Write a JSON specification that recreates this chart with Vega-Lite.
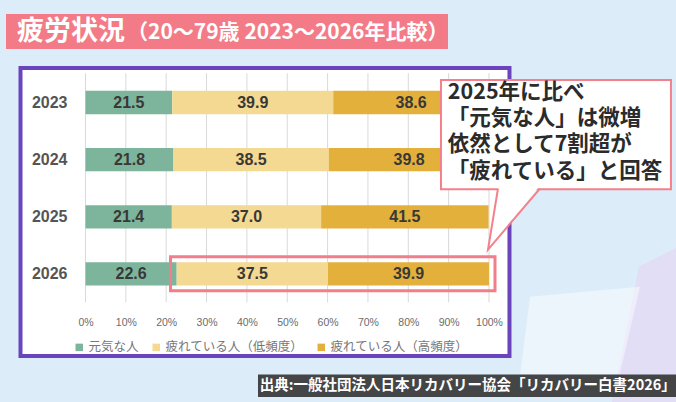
{
  "$schema": "https://vega.github.io/schema/vega-lite/v6.json",
  "width": 676,
  "height": 402,
  "padding": 0,
  "autosize": {"type": "none"},
  "background": "#dcedf9",
  "config": {"view": {"stroke": null}, "font": "Noto Sans CJK JP"},
  "datasets": {
    "survey": [
      {"year": 2023, "category": "元気な人", "value": 21.5},
      {"year": 2023, "category": "疲れている人（低頻度）", "value": 39.9},
      {"year": 2023, "category": "疲れている人（高頻度）", "value": 38.6},
      {"year": 2024, "category": "元気な人", "value": 21.8},
      {"year": 2024, "category": "疲れている人（低頻度）", "value": 38.5},
      {"year": 2024, "category": "疲れている人（高頻度）", "value": 39.8},
      {"year": 2025, "category": "元気な人", "value": 21.4},
      {"year": 2025, "category": "疲れている人（低頻度）", "value": 37.0},
      {"year": 2025, "category": "疲れている人（高頻度）", "value": 41.5},
      {"year": 2026, "category": "元気な人", "value": 22.6},
      {"year": 2026, "category": "疲れている人（低頻度）", "value": 37.5},
      {"year": 2026, "category": "疲れている人（高頻度）", "value": 39.9}
    ],
    "ticks": [
      {"tick": 0}, {"tick": 10}, {"tick": 20}, {"tick": 30}, {"tick": 40}, {"tick": 50},
      {"tick": 60}, {"tick": 70}, {"tick": 80}, {"tick": 90}, {"tick": 100}
    ]
  },
  "layer": [
    {
      "data": {"values": [{}]},
      "mark": {"type": "point", "shape": "M-0.3,-1 L0.3,-1.3 L0.3,1 L-0.7,1 Z", "filled": true, "fill": "#e3daf5", "strokeWidth": 0, "size": 19600, "opacity": 0.8},
      "encoding": {
        "x": {"datum": 142.38, "type": "quantitative"},
        "y": {"datum": 2027.096, "type": "quantitative"}
      }
    },
    {
      "data": {"values": [{}]},
      "mark": {"type": "point", "shape": "M-0.57,-0.57 L1,-0.71 L0.71,0.54 L-0.71,0.54 Z", "filled": true, "fill": "white", "strokeWidth": 0, "size": 19600, "opacity": 0.45},
      "encoding": {
        "x": {"datum": 120.07, "type": "quantitative"},
        "y": {"datum": 2027.096, "type": "quantitative"}
      }
    },
    {
      "data": {"values": [{}]},
      "mark": {"type": "rect", "fill": "#f37b87"},
      "encoding": {
        "x": {"datum": -19.7, "type": "quantitative"},
        "x2": {"datum": 89.84},
        "y": {"datum": 2021.452, "type": "quantitative"},
        "y2": {"datum": 2022.0614}
      }
    },
    {
      "data": {"values": [{}]},
      "mark": {"type": "text", "align": "left", "baseline": "middle", "fontSize": 27, "fontWeight": "bold", "color": "white", "font": "Noto Sans CJK JP"},
      "encoding": {
        "x": {"datum": -16.98, "type": "quantitative"},
        "y": {"datum": 2021.76, "type": "quantitative"},
        "text": {"value": "疲労状況"}
      }
    },
    {
      "data": {"values": [{}]},
      "mark": {"type": "text", "align": "left", "baseline": "middle", "fontSize": 21, "fontWeight": "bold", "color": "white", "font": "Noto Sans CJK JP"},
      "encoding": {
        "x": {"datum": 10.3, "type": "quantitative"},
        "y": {"datum": 2021.775, "type": "quantitative"},
        "text": {"value": "（20～79歳 2023～2026年比較）"}
      }
    },
    {
      "data": {"values": [{}]},
      "mark": {"type": "rect", "fill": "white", "stroke": "#6a44bc", "strokeWidth": 4},
      "encoding": {
        "x": {"datum": -16.11, "type": "quantitative"},
        "x2": {"datum": 105.08},
        "y": {"datum": 2022.394, "type": "quantitative"},
        "y2": {"datum": 2027.437}
      }
    },
    {
      "data": {"name": "ticks"},
      "mark": {"type": "rule", "color": "#d9d9d9", "strokeWidth": 1},
      "encoding": {
        "x": {"field": "tick", "type": "quantitative"},
        "y": {"datum": 2022.488, "type": "quantitative"},
        "y2": {"datum": 2026.498}
      }
    },
    {
      "data": {"name": "survey"},
      "transform": [
        {"stack": "value", "groupby": ["year"], "sort": [{"field": "category", "order": "ascending"}], "as": ["x0", "x1"]},
        {"calculate": "(datum.x0 + datum.x1) / 2", "as": "xmid"}
      ],
      "layer": [
        {
          "mark": {"type": "bar", "height": 23.3, "orient": "horizontal"},
          "encoding": {
            "x": {
              "field": "x0", "type": "quantitative",
              "scale": {"domain": [-21.19, 146.35], "nice": false, "zero": false},
              "axis": {
                "values": [0, 10, 20, 30, 40, 50, 60, 70, 80, 90, 100],
                "labelExpr": "datum.value + '%'",
                "title": null, "grid": false, "domain": false, "ticks": false, "tickSize": 0,
                "offset": -80, "labelPadding": 0, "labelBaseline": "middle",
                "labelFont": "Liberation Sans", "labelFontSize": 10.5, "labelColor": "#6b6b6b",
                "labelFlush": false, "labelOverlap": false, "zindex": 1
              }
            },
            "x2": {"field": "x1"},
            "y": {
              "field": "year", "type": "quantitative",
              "scale": {"domain": [2021.2935, 2028.1536], "reverse": true, "nice": false, "zero": false},
              "axis": {
                "values": [2023, 2024, 2025, 2026], "format": "d",
                "title": null, "grid": false, "domain": false, "ticks": false, "tickSize": 0,
                "offset": -85.5, "labelPadding": 18.5,
                "labelFont": "Liberation Sans", "labelFontSize": 16, "labelFontWeight": "bold", "labelColor": "#555555",
                "labelFlush": false, "labelOverlap": false, "zindex": 1
              }
            },
            "color": {
              "field": "category", "type": "nominal",
              "scale": {
                "domain": ["元気な人", "疲れている人（低頻度）", "疲れている人（高頻度）"],
                "range": ["#7db59c", "#f4d992", "#e4b03c"]
              },
              "legend": {
                "orient": "none", "legendX": 73, "legendY": 341, "direction": "horizontal",
                "title": null, "symbolType": "square", "symbolSize": 56, "symbolStrokeWidth": 0,
                "labelFont": "Noto Sans CJK JP", "labelFontSize": 12.5, "labelColor": "#777777",
                "columnPadding": 11, "labelOffset": 3
              }
            }
          }
        },
        {
          "mark": {"type": "text", "align": "center", "baseline": "middle", "font": "Liberation Sans", "fontSize": 16, "fontWeight": "bold", "color": "#383838"},
          "encoding": {
            "x": {"field": "xmid", "type": "quantitative"},
            "y": {"field": "year", "type": "quantitative"},
            "text": {"field": "value", "type": "quantitative", "format": ".1f"}
          }
        }
      ]
    },
    {
      "data": {"values": [{}]},
      "mark": {"type": "rect", "fill": "white", "fillOpacity": 0, "stroke": "#f27e8a", "strokeWidth": 3},
      "encoding": {
        "x": {"datum": 21.07, "type": "quantitative"},
        "x2": {"datum": 101.49},
        "y": {"datum": 2025.701, "type": "quantitative"},
        "y2": {"datum": 2026.2935}
      }
    },
    {
      "data": {"values": [{}]},
      "mark": {"type": "rect", "fill": "white", "stroke": "#f3808b", "strokeWidth": 2},
      "encoding": {
        "x": {"datum": 88.1, "type": "quantitative"},
        "x2": {"datum": 145.1},
        "y": {"datum": 2022.6075, "type": "quantitative"},
        "y2": {"datum": 2024.5188}
      }
    },
    {
      "data": {"values": [{}]},
      "mark": {"type": "point", "shape": "M-0.525,-1.1 L-0.852,1 L0.852,-1.1 Z", "filled": true, "fill": "white", "strokeWidth": 0, "size": 3721, "opacity": 1},
      "encoding": {
        "x": {"datum": 106.2, "type": "quantitative"},
        "y": {"datum": 2025.039, "type": "quantitative"}
      }
    },
    {
      "data": {"values": [{}]},
      "mark": {"type": "point", "shape": "M-0.525,-1 L-0.852,1 L0.852,-1", "filled": false, "stroke": "#f3808b", "strokeWidth": 2, "size": 3721, "opacity": 1},
      "encoding": {
        "x": {"datum": 106.2, "type": "quantitative"},
        "y": {"datum": 2025.039, "type": "quantitative"}
      }
    },
    {
      "data": {"values": [{}]},
      "mark": {"type": "text", "align": "left", "baseline": "middle", "fontSize": 21.5, "fontWeight": "bold", "color": "#2b2b2b", "lineHeight": 26.3, "font": "Noto Sans CJK JP"},
      "encoding": {
        "x": {"datum": 89.8, "type": "quantitative"},
        "y": {"datum": 2022.83, "type": "quantitative"},
        "text": {"value": ["2025年に比べ", "「元気な人」は微増", "依然として7割超が", "「疲れている」と回答"]}
      }
    },
    {
      "data": {"values": [{}]},
      "mark": {"type": "rect", "fill": "#2e2e2e", "opacity": 0.88},
      "encoding": {
        "x": {"datum": 42.75, "type": "quantitative"},
        "x2": {"datum": 146.35},
        "y": {"datum": 2027.761, "type": "quantitative"},
        "y2": {"datum": 2028.1536}
      }
    },
    {
      "data": {"values": [{}]},
      "mark": {"type": "text", "align": "right", "baseline": "middle", "fontSize": 14.5, "fontWeight": "bold", "color": "white", "font": "Noto Sans CJK JP"},
      "encoding": {
        "x": {"datum": 146.3, "type": "quantitative"},
        "y": {"datum": 2027.96, "type": "quantitative"},
        "text": {"value": "出典:一般社団法人日本リカバリー協会「リカバリー白書2026」"}
      }
    }
  ]
}
